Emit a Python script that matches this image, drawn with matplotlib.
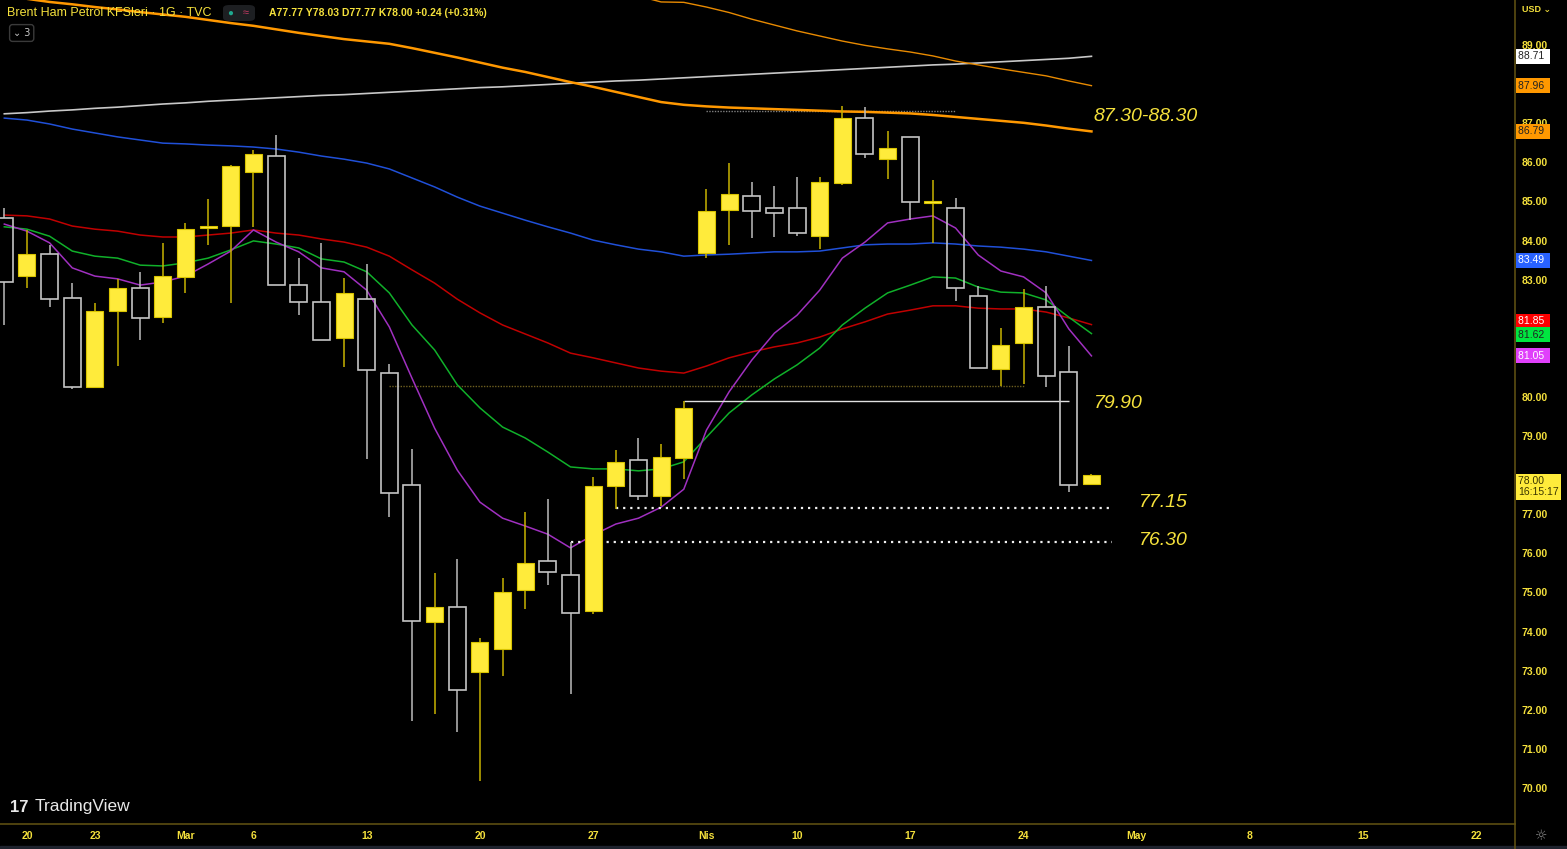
import matplotlib.pyplot as plt
import matplotlib.transforms as mtransforms
from matplotlib.patches import Rectangle, FancyBboxPatch
from matplotlib.lines import Line2D
import numpy as np
import pandas as pd

plt.rcParams['font.family'] = ['Liberation Sans', 'DejaVu Sans']

# trading calendar (Good Friday closed)
cal = pd.bdate_range('2023-02-17', '2023-05-26')
cal = cal[cal != pd.Timestamp('2023-04-07')]

# daily candles 17 Feb - 27 Apr 2023
opens = [84.58, 83.09, 83.65, 82.53, 80.25, 82.20, 82.79, 82.04, 83.07, 84.32, 84.37, 85.75, 86.16,
         82.86, 82.43, 81.51, 82.50, 80.61, 77.75, 74.24, 74.63, 72.96, 73.55, 75.06, 75.80, 75.45,
         74.52, 77.72, 78.39, 77.47, 78.44, 83.68, 84.78, 85.14, 84.83, 84.83, 84.12, 85.47, 87.13,
         86.08, 86.65, 84.97, 84.83, 82.58, 80.71, 81.38, 82.30, 80.64, 77.77]
highs = [84.83, 84.27, 83.88, 82.91, 82.40, 83.02, 83.19, 83.94, 84.45, 85.06, 85.93, 86.31, 86.70,
         83.55, 83.94, 83.04, 83.40, 80.84, 78.67, 75.50, 75.85, 73.83, 75.37, 77.06, 77.39, 76.30,
         77.95, 78.64, 78.95, 78.80, 79.90, 85.32, 85.98, 85.50, 85.39, 85.62, 85.62, 87.44, 87.41,
         86.80, 86.65, 85.55, 85.09, 82.84, 81.76, 82.76, 82.84, 81.30, 78.03]
lows = [81.84, 82.79, 82.30, 80.20, 80.25, 80.79, 81.46, 81.89, 82.66, 83.88, 82.40, 84.35, 82.86,
        82.09, 81.46, 80.76, 78.41, 76.93, 71.71, 71.89, 71.43, 70.18, 72.86, 74.58, 75.19, 72.40,
        74.45, 77.13, 77.36, 77.21, 77.90, 83.55, 83.88, 84.06, 84.09, 84.12, 83.78, 85.42, 86.11,
        85.57, 84.52, 83.94, 82.45, 80.74, 80.28, 80.33, 80.25, 77.57, 77.77]
closes = [82.94, 83.65, 82.50, 80.25, 82.20, 82.79, 82.02, 83.09, 84.29, 84.37, 85.91, 86.21, 82.86,
          82.43, 81.46, 82.66, 80.69, 77.54, 74.27, 74.63, 72.50, 73.73, 75.01, 75.75, 75.52, 74.47,
          77.72, 78.34, 77.47, 78.46, 79.72, 84.75, 85.19, 84.75, 84.70, 84.19, 85.50, 87.13, 86.21,
          86.37, 84.98, 85.00, 82.79, 80.74, 81.33, 82.30, 80.53, 77.76, 78.00]

# moving averages
ma_magenta = [84.42, 84.24, 83.94, 83.30, 83.09, 83.02, 82.86, 82.94, 83.09, 83.40, 83.73, 84.27, 83.96,
              83.71, 83.30, 83.20, 82.73, 81.79, 80.48, 79.20, 78.13, 77.31, 76.90, 76.70, 76.49, 76.14,
              76.47, 76.75, 76.90, 77.18, 77.64, 79.15, 80.13, 80.94, 81.63, 82.09, 82.73, 83.55, 83.96,
              84.45, 84.55, 84.63, 84.32, 83.63, 83.22, 83.07, 82.66, 81.74, 81.05]
ma_green = [84.35, 84.29, 84.11, 83.73, 83.60, 83.55, 83.37, 83.35, 83.43, 83.55, 83.76, 83.99, 83.91,
            83.81, 83.53, 83.45, 83.20, 82.66, 81.84, 81.20, 80.31, 79.72, 79.23, 78.95, 78.59, 78.21,
            78.16, 78.16, 78.11, 78.16, 78.34, 78.97, 79.59, 80.05, 80.46, 80.82, 81.25, 81.84, 82.27,
            82.66, 82.86, 83.07, 83.04, 82.81, 82.68, 82.66, 82.48, 82.04, 81.62]
ma_red = [84.65, 84.63, 84.55, 84.37, 84.29, 84.24, 84.14, 84.09, 84.09, 84.14, 84.19, 84.27, 84.19,
          84.14, 84.04, 83.96, 83.83, 83.60, 83.25, 82.91, 82.50, 82.15, 81.84, 81.61, 81.38, 81.12,
          81.00, 80.87, 80.74, 80.66, 80.61, 80.79, 81.00, 81.15, 81.28, 81.38, 81.53, 81.74, 81.92,
          82.12, 82.22, 82.33, 82.33, 82.27, 82.25, 82.25, 82.17, 82.02, 81.85]
ma_blue = [87.13, 87.08, 86.98, 86.85, 86.75, 86.65, 86.57, 86.49, 86.47, 86.44, 86.42, 86.39, 86.34,
           86.26, 86.16, 86.08, 85.98, 85.83, 85.60, 85.37, 85.11, 84.88, 84.70, 84.52, 84.35, 84.19,
           84.01, 83.89, 83.78, 83.71, 83.60, 83.63, 83.65, 83.68, 83.71, 83.71, 83.73, 83.81, 83.89,
           83.91, 83.91, 83.94, 83.91, 83.86, 83.83, 83.78, 83.71, 83.60, 83.49]
ma_orange = [90.23, 90.18, 90.10, 90.04, 89.97, 89.91, 89.84, 89.78, 89.72, 89.64, 89.56, 89.49, 89.40,
             89.31, 89.23, 89.15, 89.09, 89.03, 88.92, 88.80, 88.68, 88.55, 88.42, 88.31, 88.18, 88.05,
             87.93, 87.80, 87.67, 87.54, 87.47, 87.43, 87.40, 87.38, 87.36, 87.34, 87.32, 87.30, 87.29,
             87.27, 87.25, 87.21, 87.16, 87.11, 87.06, 87.01, 86.94, 86.86, 86.79]
ma_orange2 = [94.40, 94.25, 94.10, 93.95, 93.80, 93.65, 93.50, 93.35, 93.20, 93.05, 92.90, 92.75, 92.60,
              92.45, 92.30, 92.15, 92.00, 91.85, 91.70, 91.55, 91.40, 91.25, 91.10, 90.95, 90.80, 90.65,
              90.52, 90.39, 90.25, 90.10, 90.09, 89.97, 89.83, 89.66, 89.51, 89.36, 89.23, 89.10, 88.99,
              88.90, 88.82, 88.72, 88.59, 88.49, 88.39, 88.30, 88.21, 88.08, 87.96]
ma_white = [87.24, 87.27, 87.31, 87.34, 87.38, 87.41, 87.45, 87.49, 87.52, 87.56, 87.59, 87.62, 87.65,
            87.68, 87.71, 87.73, 87.76, 87.79, 87.82, 87.85, 87.88, 87.91, 87.93, 87.96, 87.99, 88.02,
            88.05, 88.08, 88.10, 88.13, 88.16, 88.19, 88.22, 88.25, 88.28, 88.31, 88.34, 88.37, 88.40,
            88.43, 88.46, 88.49, 88.51, 88.54, 88.57, 88.60, 88.63, 88.66, 88.71]

tick_dates = ['2023-02-20', '2023-02-23', '2023-03-01', '2023-03-06', '2023-03-13', '2023-03-20',
              '2023-03-27', '2023-04-03', '2023-04-10', '2023-04-17', '2023-04-24', '2023-05-01',
              '2023-05-08', '2023-05-15', '2023-05-22']
tick_labels = ['20', '23', 'Mar', '6', '13', '20', '27', 'Nis', '10', '17', '24', 'May', '8', '15', '22']
# price levels whose scale labels sit under the price tags
price_ticks = [70, 71, 72, 73, 74, 75, 76, 77, 79, 80, 83, 84, 85, 86, 87, 89]

YEL = '#f5e13c'
BG = '#000000'

fig = plt.figure(figsize=(15.67, 8.49), dpi=100, facecolor=BG)
ax = fig.add_axes([0, 25 / 849, 1515 / 1567, 824 / 849])
ax.set_facecolor(BG)

x = np.arange(len(opens))
o = np.array(opens)
c = np.array(closes)
h = np.array(highs)
l = np.array(lows)
up = c >= o
top = np.maximum(o, c)
bot = np.minimum(o, c)

# moving averages
ax.plot(x, ma_white, color='#c8c8c8', lw=1.2, zorder=1.5)
ax.plot(x, ma_orange2, color='#e88a00', lw=1.0, zorder=1.5)
ax.plot(x, ma_orange, color='#ff9800', lw=1.8, zorder=1.5)
ax.plot(x, ma_blue, color='#2050d8', lw=1.1, zorder=1.5)
ax.plot(x, ma_red, color='#c00000', lw=1.1, zorder=1.5)
ax.plot(x, ma_green, color='#10b02a', lw=1.1, zorder=1.5)
ax.plot(x, ma_magenta, color='#a030c0', lw=1.1, zorder=1.5)

# candles
wick_up = '#c8b400'
wick_dn = '#bdbdbd'
for xs, col in [(up, wick_up), (~up, wick_dn)]:
    ax.vlines(x[xs], l[xs], bot[xs], color=col, lw=1.1, zorder=2)
    ax.vlines(x[xs], top[xs], h[xs], color=col, lw=1.1, zorder=2)
hgt = np.maximum(top - bot, 0.04)
ax.bar(x[up], hgt[up], bottom=bot[up], width=0.75, color='#ffeb3b', edgecolor='#d9c400',
       linewidth=0.8, zorder=3)
ax.bar(x[~up], hgt[~up], bottom=bot[~up], width=0.75, color='none', edgecolor='#c4c4c4',
       linewidth=1.2, zorder=3)

# drawn levels
d = {k: i for i, k in enumerate(cal.strftime('%Y-%m-%d'))}
ax.hlines(80.28, d['2023-03-14'], d['2023-04-24'], color='#6e6020', lw=1.0, ls=(0, (1, 1)), zorder=1.4)
ax.hlines(87.30, d['2023-04-03'], d['2023-04-19'], color='#808080', lw=1.0, ls=(0, (1, 1)), zorder=1.4)
ax.hlines(79.90, d['2023-03-31'], d['2023-04-26'], color='#e0e0e0', lw=1.0, zorder=1.6)
ax.hlines(77.15, d['2023-03-28'], 48.9, color='#f0f0f0', lw=1.6, ls=(0, (1, 2.2)), zorder=1.6)
ax.hlines(76.30, d['2023-03-24'], 48.9, color='#f0f0f0', lw=1.6, ls=(0, (1, 2.2)), zorder=1.6)

afont = dict(color=YEL, fontsize=14, style='italic', va='center', ha='left', zorder=5)
ax.text(48.1, 87.18, '87.30-88.30', **afont)
ax.text(48.1, 79.82, '79.90', **afont)
ax.text(50.1, 77.29, '77.15', **afont)
ax.text(50.1, 76.32, '76.30', **afont)

ax.set_xlim(-0.19, 66.70)
ax.set_ylim(69.08, 90.15)

# axes styling
for s in ['top', 'left']:
    ax.spines[s].set_visible(False)
for s in ['right', 'bottom']:
    ax.spines[s].set_color('#5c4e12')
    ax.spines[s].set_linewidth(1.2)

ax.yaxis.tick_right()
ax.set_yticks(price_ticks)
ax.set_yticklabels([f'{v:.2f}' for v in price_ticks])
ax.set_xticks([d[t] for t in tick_dates])
ax.set_xticklabels(tick_labels)
ax.tick_params(axis='y', length=0, pad=5, colors=YEL, labelsize=7.5)
ax.tick_params(axis='x', length=0, pad=5, colors=YEL, labelsize=7.5)
for t in ax.get_xticklabels() + ax.get_yticklabels():
    t.set_fontweight('bold')

# price tags on the right scale (red/green pushed apart like the scale does)
tr = mtransforms.blended_transform_factory(ax.transAxes, ax.transData)
tags = [(ma_white[-1], 0.0, '#ffffff', '#222222'), (ma_orange2[-1], 0.0, '#ff9800', '#222222'),
        (ma_orange[-1], 0.0, '#ff9800', '#222222'), (ma_blue[-1], 0.0, '#2962ff', '#ffffff'),
        (ma_red[-1], 0.09, '#ff0000', '#ffffff'), (ma_green[-1], -0.03, '#00e640', '#222222'),
        (ma_magenta[-1], 0.0, '#e040fb', '#ffffff')]
for v, shift, fc, tc in tags:
    ax.text(1.002, v + shift, f'{v:.2f} ', transform=tr, color=tc, fontsize=7.5, va='center',
            ha='left', clip_on=False, zorder=6,
            bbox=dict(boxstyle='square,pad=0.24', fc=fc, ec='none'))
ax.text(1.002, 77.70, f'{closes[-1]:.2f}   \n16:15:17', transform=tr, color='#3a3500', fontsize=7.5,
        va='center', ha='left', clip_on=False, zorder=6, linespacing=1.1,
        bbox=dict(boxstyle='square,pad=0.24', fc='#ffeb3b', ec='none'))

# header
fig.text(7 / 1567, 1 - 13 / 849, 'Brent Ham Petrol KFSleri · 1G · TVC', color=YEL, fontsize=9,
         va='center', ha='left')
fig.add_artist(FancyBboxPatch((223 / 1567, 1 - 21 / 849), 32 / 1567, 16 / 849,
                              boxstyle='round,pad=0,rounding_size=0.004',
                              transform=fig.transFigure, fc='#1d1f22', ec='none'))
fig.text(230 / 1567, 1 - 13 / 849, '●', color='#1fa98f', fontsize=7, va='center', ha='center')
fig.text(246 / 1567, 1 - 13 / 849, '≈', color='#c23a62', fontsize=8, va='center', ha='center')
fig.text(269 / 1567, 1 - 13 / 849,
         f'A{opens[-1]:.2f} Y{highs[-1]:.2f} D{lows[-1]:.2f} K{closes[-1]:.2f} +0.24 (+0.31%)',
         color=YEL, fontsize=7.5, fontweight='bold', va='center', ha='left')
fig.text(13 / 1567, 1 - 33 / 849, '⌄ 3', color='#c8c8c8', fontsize=7, va='center', ha='left',
         family=['DejaVu Sans'],
         bbox=dict(boxstyle='round,pad=0.35,rounding_size=0.3', fc=BG, ec='#3a3a3a'))
fig.text(1522 / 1567, 1 - 10 / 849, 'USD ⌄', color=YEL, fontsize=6.5, fontweight='bold',
         va='center', ha='left', family=['Liberation Sans', 'DejaVu Sans'])

# logo
fig.text(10 / 1567, 1 - 807 / 849, '17', color='#e8e8e8', fontsize=12, fontweight='heavy',
         va='center', ha='left')
fig.text(35 / 1567, 1 - 807 / 849, 'TradingView', color='#e8e8e8', fontsize=12.5,
         va='center', ha='left')

# bottom-right corner
fig.add_artist(Line2D([1515 / 1567, 1515 / 1567], [0, 25 / 849], color='#5c4e12', lw=1.2))
fig.text(1541 / 1567, 1 - 836 / 849, '☼', color='#8a8a8a', fontsize=10, va='center', ha='center',
         family=['DejaVu Sans'])
fig.add_artist(Rectangle((0, 0), 1, 3 / 849, transform=fig.transFigure, color='#1e222d'))

fig.savefig('out.png', dpi=100, facecolor=BG)
